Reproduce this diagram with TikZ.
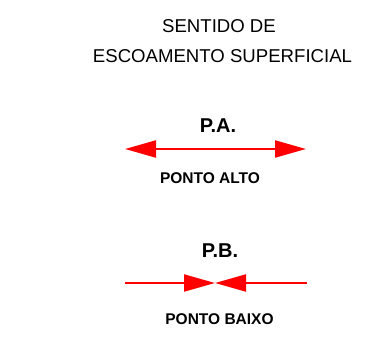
\documentclass[tikz,border=0pt]{standalone}
\usepackage{fontspec}
\setmainfont{Liberation Sans}
\usetikzlibrary{arrows.meta}
\tikzstyle{heading}=[font=\fontsize{18.6}{21}\selectfont,inner sep=0pt,anchor=base]
\tikzstyle{tag}=[font=\bfseries\fontsize{20}{22}\selectfont,inner sep=0pt,anchor=base]
\tikzstyle{legend}=[font=\bfseries\fontsize{15.5}{18}\selectfont,inner sep=0pt,anchor=base]
\tikzstyle{flow}=[draw,red,line width=2.2pt,-{Triangle[length=31pt,width=17pt]}]

\begin{document}
\begin{tikzpicture}[x=1pt,y=-1pt]
    \useasboundingbox[fill=white] (0,0) rectangle (382,339);

    % title
    \node[heading] (title1) at (219,33) {SENTIDO DE};
    \node[heading] (title2) at (222.5,63) {ESCOAMENTO SUPERFICIAL};

    % ponto alto
    \node[tag] (pa) at (218,132) {P.A.};
    \coordinate (pamid) at (215.5,149);
    \coordinate (paleft) at (125,149);
    \coordinate (paright) at (306,149);
    \foreach \dest in {paleft,paright}
        \path[flow] (pamid) -- (\dest);
    \node[legend] (alto) at (210,183) {PONTO ALTO};

    % ponto baixo
    \node[tag] (pb) at (220,257) {P.B.};
    \coordinate (pbmid) at (215,283);
    \coordinate (pbleft) at (125,283);
    \coordinate (pbright) at (307,283);
    \foreach \source in {pbleft,pbright}
        \path[flow] (\source) -- (pbmid);
    \node[legend] (baixo) at (219.5,324) {PONTO BAIXO};

\end{tikzpicture}
\end{document}
